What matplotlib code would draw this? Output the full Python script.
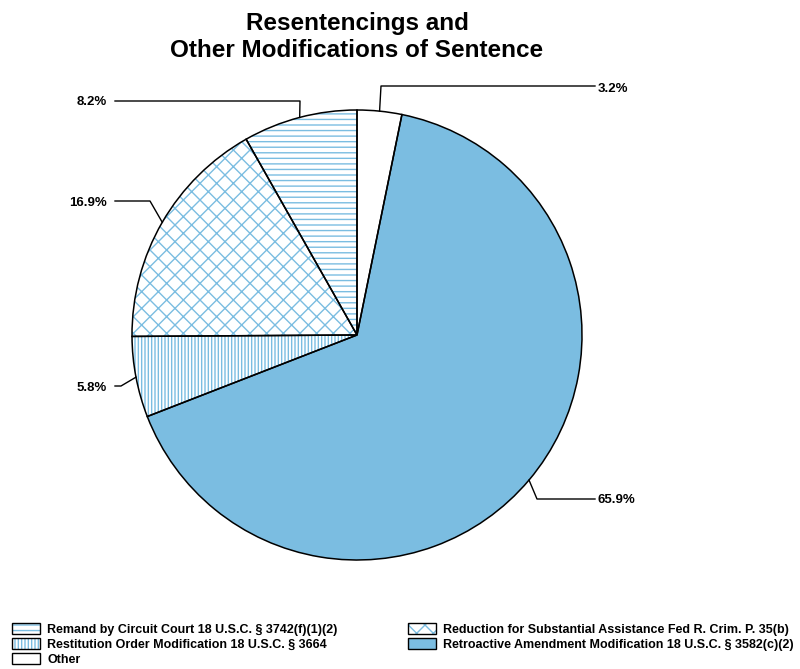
import matplotlib.pyplot as plt
from matplotlib.patches import Patch
import numpy as np

plt.rcParams['font.family'] = ['Liberation Sans', 'DejaVu Sans']
plt.rcParams['hatch.linewidth'] = 1.0

# Sentence modification types, in drawing order (from 12 o'clock, counterclockwise)
categories = [
    "Remand by Circuit Court 18 U.S.C. § 3742(f)(1)(2)",
    "Reduction for Substantial Assistance Fed R. Crim. P. 35(b)",
    "Restitution Order Modification 18 U.S.C. § 3664",
    "Retroactive Amendment Modification 18 U.S.C. § 3582(c)(2)",
    "Other",
]
percents = [8.2, 16.9, 5.8, 65.9, 3.2]
labels = ["8.2%", "16.9%", "5.8%", "65.9%", "3.2%"]

BLUE = "#7bbde1"
faces = ["white", "white", "white", BLUE, "white"]
hatches = ["---", "xx", "|||||", None, None]

W, H = 800, 669
CX, CY, R = 357, 335, 225


def px(x, y):
    # pixel position measured from the top-left corner -> data coords
    return x, H - y


fig = plt.figure(figsize=(W / 100, H / 100), dpi=100)
ax = fig.add_axes([0, 0, 1, 1])
ax.set_xlim(0, W)
ax.set_ylim(0, H)
ax.axis("off")

# hatch layer (hatch colour follows the edge colour)
wedges, _ = ax.pie(percents, startangle=90, counterclock=True,
                   center=px(CX, CY), radius=R, colors=faces,
                   wedgeprops=dict(edgecolor=BLUE, linewidth=0))
for w, h in zip(wedges, hatches):
    if h:
        w.set_hatch(h)

# outline layer
ax.pie(percents, startangle=90, counterclock=True, center=px(CX, CY),
       radius=R, colors=["none"] * len(percents),
       wedgeprops=dict(edgecolor="black", linewidth=1.1, fill=False))
ax.set_xlim(0, W)
ax.set_ylim(0, H)
ax.set_aspect("equal")

# leader lines: (elbow, line end, text position, alignment)
leaders = [
    ((300, 101), (115, 101), (107, 102), "right"),
    ((150, 201), (115, 201), (107, 203), "right"),
    ((121, 386), (115, 386), (107, 388), "right"),
    ((537, 499), (595, 499), (598, 500), "left"),
    ((381, 86), (595, 86), (598, 89), "left"),
]

bounds = np.cumsum([0] + percents) / 100.0 * 360 + 90
for i, (elbow, end, tpos, ha) in enumerate(leaders):
    mid = np.deg2rad((bounds[i] + bounds[i + 1]) / 2)
    ex, ey = CX + R * np.cos(mid), CY - R * np.sin(mid)
    xs = [ex, elbow[0], end[0]]
    ys = [H - ey, H - elbow[1], H - end[1]]
    ax.plot(xs, ys, color="black", linewidth=1.0)
    ax.text(*px(*tpos), labels[i], ha=ha, va="center",
            fontsize=9.5, fontweight="bold")

ax.text(*px(CX, 37), "Resentencings and\nOther Modifications of Sentence",
        ha="center", va="center", fontsize=17.5, fontweight="bold",
        linespacing=1.2)

# legend fills column by column
order = [0, 2, 4, 1, 3]
handles = [Patch(facecolor=faces[i], edgecolor=BLUE if hatches[i] else "black",
                 hatch=hatches[i], linewidth=0) for i in order]
outline = [Patch(facecolor="none", edgecolor="black", linewidth=1.0) for _ in order]
leg = fig.legend([(h, o) for h, o in zip(handles, outline)],
                 [categories[i] for i in order],
                 loc="upper left", bbox_to_anchor=(6 / W, 1 - 617 / H),
                 ncol=2, frameon=False,
                 handlelength=2.25, handleheight=0.9, handletextpad=0.55,
                 labelspacing=0.2, columnspacing=5.6, borderpad=0,
                 prop=dict(weight="bold", size=9))

fig.savefig("out.png", dpi=100)
